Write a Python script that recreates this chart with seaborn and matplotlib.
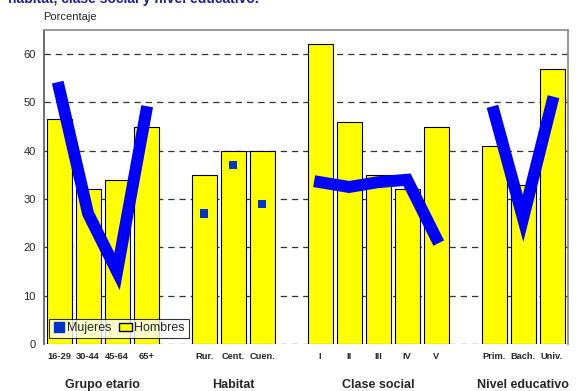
import matplotlib
matplotlib.use("Agg")
import matplotlib.pyplot as plt
import seaborn as sns
import pandas as pd
from matplotlib.lines import Line2D
from matplotlib.patches import Patch

# ---- data ----
grupos = ["Grupo etario", "Habitat", "Clase social", "Nivel educativo"]
cat_edad = ["16-29", "30-44", "45-64", "65+"]
cat_habitat = ["Rur.", "Cent.", "Cuen."]
cat_clase = ["I", "II", "III", "IV", "V"]
cat_nivel = ["Prim.", "Bach.", "Univ."]

hombres_edad = [46.5, 32, 34, 45]
hombres_habitat = [35, 40, 40]
hombres_clase = [62, 46, 35, 32, 45]
hombres_nivel = [41, 33, 57]

mujeres_edad = [53, 27, 15, 48]
mujeres_habitat = [27, 37, 29]
mujeres_clase = [33.5, 32.5, 33.5, 34, 22]
mujeres_nivel = [48, 26, 50]

yticks = [0, 10, 20, 30, 40, 50, 60]

# ---- build table ----
cats = [cat_edad, cat_habitat, cat_clase, cat_nivel]
hom = [hombres_edad, hombres_habitat, hombres_clase, hombres_nivel]
muj = [mujeres_edad, mujeres_habitat, mujeres_clase, mujeres_nivel]
rows = []
p = 0
for g, (c, h, m) in enumerate(zip(cats, hom, muj)):
    for i in range(len(c)):
        rows.append(dict(grupo=grupos[g], cat=c[i], pos=p, hombres=h[i], mujeres=m[i]))
        p += 1
    p += 1
df = pd.DataFrame(rows)

sns.set_theme(style="white")
plt.rcParams["font.family"] = ["Liberation Sans", "DejaVu Sans"]

fig = plt.figure(figsize=(5.8, 3.91), dpi=100)
ax = fig.add_axes([44/580, 47/391, 524/580, 314/391])

# gridlines behind bars
ax.set_axisbelow(True)
ax.yaxis.grid(True, linestyle=(0, (5, 4)), color="#333333", linewidth=0.9)
ax.xaxis.grid(False)

sns.barplot(data=df, x="pos", y="hombres", native_scale=True, width=0.86,
            color="#FFFF00", saturation=1, edgecolor="black", linewidth=0.8, ax=ax, zorder=2)

# Mujeres: markers (under the lines)
sns.scatterplot(data=df, x="pos", y="mujeres", marker="s", s=36, color="#0033CC",
                edgecolor="none", ax=ax, zorder=3, legend=False)
# Mujeres: thick lines (except Habitat)
for g in ["Grupo etario", "Clase social", "Nivel educativo"]:
    sub = df[df.grupo == g]
    sns.lineplot(x=sub["pos"], y=sub["mujeres"], color="#0000FF", linewidth=8.6,
                 sort=False, ax=ax, zorder=4, solid_capstyle="projecting", solid_joinstyle="miter")

ax.set_xlim(-0.52, 17.55)
ax.set_ylim(0, 65)
ax.set_yticks(yticks)
ax.set_yticklabels([str(v) for v in yticks], fontsize=8)
ax.set_xticks(df["pos"])
ax.set_xticklabels(df["cat"], fontsize=6.7, fontweight="bold")
ax.tick_params(axis="x", length=0, pad=6)
ax.tick_params(axis="y", length=0, pad=6)
ax.set_xlabel("")
ax.set_ylabel("")
for s in ["top", "right"]:
    ax.spines[s].set_color("#888888")
    ax.spines[s].set_linewidth(1.2)
ax.spines["left"].set_color("#555555")
ax.spines["left"].set_linewidth(1.2)
ax.spines["bottom"].set_visible(False)

# group labels
for g in grupos:
    sub = df[df.grupo == g]
    xc = sub["pos"].mean()
    ax.text(xc, -0.13, g, transform=ax.get_xaxis_transform(), ha="center", va="center",
            fontsize=9, fontweight="bold")

# legend
handles = [Line2D([0], [0], marker="s", linestyle="none", color="#0033CC", markersize=6.5),
           Patch(facecolor="#FFFF00", edgecolor="black")]
leg = ax.legend(handles, ["Mujeres", "Hombres"], loc="lower left", bbox_to_anchor=(0.009, 0.019),
                ncol=2, fontsize=9, frameon=True, fancybox=False, borderpad=0.3,
                handlelength=1.0, handletextpad=0.2, columnspacing=0.6, borderaxespad=0)
leg.get_frame().set_edgecolor("black")
leg.get_frame().set_linewidth(0.8)
leg.set_zorder(10)

fig.text(0.074, 1 - 17/391, "Porcentaje", fontsize=8, ha="left", va="center")
fig.text(0.013, 1 - 2.5/391, "hábitat, clase social y nivel educativo.", fontsize=10,
         fontweight="bold", color="#1E1E9E", ha="left", va="baseline")

fig.savefig("out.png", dpi=100)
